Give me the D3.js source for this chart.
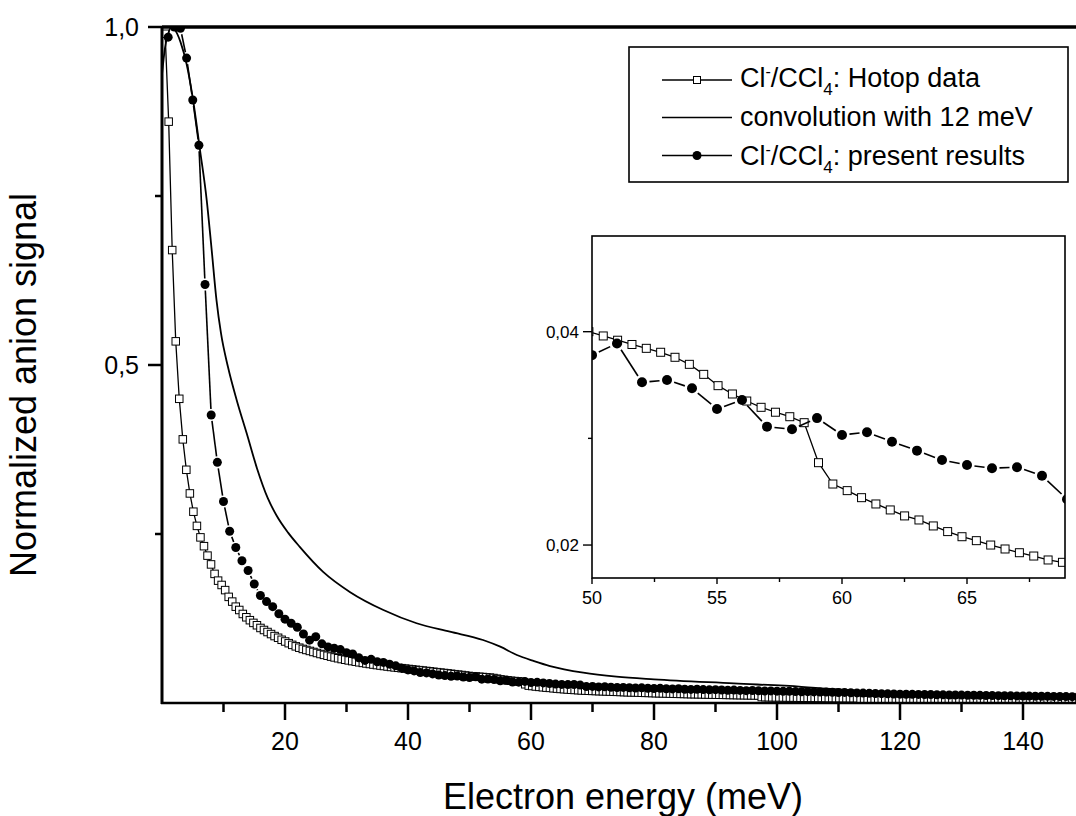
<!DOCTYPE html>
<html>
<head>
<meta charset="utf-8">
<script src="https://cdn.jsdelivr.net/npm/d3@7"></script>
<style>
  body { margin: 0; background: #fff; }
  text { font-family: "Liberation Sans", Arial, Helvetica, sans-serif; fill: #000; }
</style>
</head>
<body>
<div id="chart"></div>
<script>
// ---- data ----
// Hotop data: energy grid of the measurement (meV)
var hotopStart = 0.512, hotopStep = 0.574;
var hotopSignal = [
  0.99, 0.86, 0.67, 0.535, 0.45, 0.39, 0.345, 0.31, 0.283, 0.262,
  0.245, 0.232, 0.218, 0.205, 0.191, 0.181, 0.1746, 0.167, 0.157, 0.150,
  0.1425, 0.1376, 0.1317, 0.1268, 0.1225, 0.1185, 0.115, 0.111, 0.108, 0.105,
  0.102, 0.099, 0.0965, 0.0935, 0.091, 0.0885, 0.086, 0.0838, 0.0818, 0.080,
  0.0785, 0.077, 0.0755, 0.074, 0.0725, 0.0712, 0.0699, 0.0686, 0.0674, 0.0662,
  0.0650, 0.0640, 0.0630, 0.0620, 0.0611, 0.0602, 0.0593, 0.0585, 0.0577, 0.0569,
  0.0561, 0.0554, 0.0547, 0.0540, 0.0533, 0.0527, 0.0521, 0.0515, 0.0509, 0.0503,
  0.0497, 0.0491, 0.0486, 0.0480, 0.0474, 0.0468, 0.0462, 0.0456, 0.0450, 0.0444,
  0.0438, 0.0432, 0.0426, 0.0420, 0.0414, 0.0407, 0.0400,
  0.0396, 0.0392, 0.0388, 0.03844, 0.03807, 0.0376, 0.03694, 0.0360, 0.03494, 0.03416,
  0.0335, 0.03291, 0.03245, 0.03203, 0.03147, 0.02772, 0.02572, 0.0251, 0.02444, 0.02385,
  0.02329, 0.02273, 0.02235, 0.02179, 0.02126, 0.02078, 0.02041, 0.0200, 0.01963, 0.01928,
  0.01897, 0.0186, 0.01838,
  0.0181, 0.0179, 0.0177, 0.0175, 0.0173, 0.0171, 0.0169, 0.0167, 0.0165, 0.0163,
  0.0161, 0.0159, 0.0157, 0.0156, 0.0154, 0.0152, 0.0150, 0.0149, 0.0147, 0.0145,
  0.0144, 0.0142, 0.0141, 0.0139, 0.0138, 0.0136, 0.0135, 0.0134, 0.0132, 0.0131,
  0.0130, 0.0129, 0.0128, 0.0126, 0.0125, 0.0124, 0.0123, 0.0122, 0.0121, 0.0120,
  0.0119, 0.0118, 0.0117, 0.0116, 0.0115, 0.0114, 0.0113, 0.0112, 0.0111, 0.0088,
  0.0086, 0.0085, 0.0084, 0.0083, 0.0083, 0.0082, 0.0081, 0.0080, 0.0080, 0.0079,
  0.0078, 0.0078, 0.0077, 0.0076, 0.0076, 0.0075, 0.0075, 0.0074, 0.0073, 0.0073,
  0.0072, 0.0072, 0.0071, 0.0071, 0.0070, 0.0070, 0.0069,
  0.0048, 0.0047, 0.0047, 0.0046, 0.0046, 0.0046, 0.0045, 0.0045, 0.0044, 0.0044,
  0.0044, 0.0043, 0.0043, 0.0043, 0.0042, 0.0042, 0.0042, 0.0041, 0.0041, 0.0041,
  0.0040, 0.0040, 0.0040, 0.0039, 0.0039, 0.0039, 0.0039, 0.0038, 0.0038, 0.0038,
  0.0037, 0.0037, 0.0037, 0.0037, 0.0036, 0.0036, 0.0036, 0.0036, 0.0035, 0.0035,
  0.0035, 0.0035, 0.0035, 0.0034, 0.0034, 0.0034, 0.0034, 0.0034, 0.0033, 0.0033,
  0.0033, 0.0033, 0.0033, 0.0032, 0.0032, 0.0032, 0.0032, 0.0032, 0.0032, 0.0031,
  0.0031, 0.0031, 0.0031
];

// convolution with 12 meV
var convEnergy = [0, 0.5, 1, 1.5, 2, 3, 4, 5, 6.18, 7.27, 8.08, 8.86, 9.59, 10.73, 12.15,
  13.77, 15.45, 17.2, 18.65, 20.5, 22.4, 26.2, 30.6, 36, 41.4, 46.8, 52.2, 55, 57.7,
  60.5, 63.1, 68.5, 73.9, 80, 93, 104, 115, 125, 136, 150];
var convSignal = [0.93, 0.97, 0.99, 1.0, 0.997, 0.978, 0.945, 0.895, 0.818, 0.744, 0.670, 0.596, 0.547, 0.497, 0.448,
  0.399, 0.347, 0.303, 0.277, 0.252, 0.231, 0.194, 0.164, 0.1376, 0.118, 0.1055, 0.0932, 0.0833, 0.071,
  0.062, 0.0547, 0.0449, 0.039, 0.035, 0.029, 0.024, 0.0167, 0.012, 0.0093, 0.0072];

// present results, 1 meV steps starting at 1 meV
var presentSignal = [
  0.985, 1.0, 0.998, 0.954, 0.892, 0.825, 0.619, 0.426, 0.356, 0.298,
  0.254, 0.230, 0.2105, 0.196, 0.176, 0.159, 0.150, 0.1425, 0.132, 0.124,
  0.118, 0.112, 0.102, 0.093, 0.098, 0.0875, 0.083, 0.081, 0.079, 0.0745,
  0.0725, 0.067, 0.063, 0.0646, 0.061, 0.060, 0.0575, 0.055, 0.0515, 0.049,
  0.0475, 0.045, 0.0445, 0.043, 0.0415, 0.0405, 0.0395, 0.0400, 0.0385, 0.0378,
  0.0389, 0.03526, 0.03547, 0.0347, 0.03275, 0.0336, 0.0311, 0.03085, 0.0319, 0.03032,
  0.03057, 0.02969, 0.02885, 0.02797, 0.0275, 0.0272, 0.0273, 0.0265, 0.0243, 0.0245,
  0.0238, 0.0240, 0.0233, 0.0229, 0.0231, 0.0225, 0.0222, 0.0224, 0.0218, 0.0215,
  0.0217, 0.0211, 0.0208, 0.0210, 0.0204, 0.0201, 0.0203, 0.0198, 0.0195, 0.0197,
  0.0192, 0.0189, 0.0191, 0.0186, 0.0183, 0.0185, 0.0180, 0.0178, 0.0179, 0.0175,
  0.0172, 0.0174, 0.0169, 0.0167, 0.0168, 0.0164, 0.0161, 0.0163, 0.0158, 0.0156,
  0.0157, 0.0152, 0.0149, 0.0147, 0.0143, 0.0140, 0.0138, 0.0135, 0.0133, 0.0131,
  0.0130, 0.0128, 0.0127, 0.0125, 0.0124, 0.0122, 0.0121, 0.0119, 0.0118, 0.0117,
  0.0115, 0.0114, 0.0113, 0.0111, 0.0110, 0.0109, 0.0107, 0.0106, 0.0105, 0.0104,
  0.0102, 0.0101, 0.0100, 0.0099, 0.0098, 0.0096, 0.0095, 0.0094, 0.0093, 0.0092
];

var xMajor = [20, 40, 60, 80, 100, 120, 140];
var xMinor = [10, 30, 50, 70, 90, 110, 130];
var yMajor = [0.5, 1.0];
var yMinor = [0.25, 0.75];

var insetXMajor = [50, 55, 60, 65];
var insetXMinor = [52.5, 57.5, 62.5, 67.5];
var insetYMajor = [0.02, 0.04];
var insetYMinor = [0.03];

var hotop = hotopSignal.map(function(v, i) { return {e: hotopStart + i * hotopStep, v: v}; });
var present = presentSignal.map(function(v, i) { return {e: i + 1, v: v}; });
var conv = convEnergy.map(function(e, i) { return {e: e, v: convSignal[i]}; });

var W = 1076, H = 816;
var svg = d3.select("#chart").append("svg")
    .attr("width", W)
    .attr("height", H);
svg.append("rect").attr("width", W).attr("height", H).attr("fill", "#fff");

// ---- main plot ----
var x = d3.scaleLinear().domain([0, 150]).range([162, 1084.5]);
var y = d3.scaleLinear().domain([0, 1]).range([703, 27]);

svg.append("clipPath").attr("id", "mainClip")
  .append("rect").attr("x", 162).attr("y", 27).attr("width", W - 162).attr("height", 676);

var plot = svg.append("g").attr("clip-path", "url(#mainClip)");

// line segments that stop short of the symbols (Origin style)
function gapSegments(g, pts, gap, width) {
    for (var i = 0; i < pts.length - 1; i++) {
        var a = pts[i], b = pts[i + 1];
        var dx = b[0] - a[0], dy = b[1] - a[1], d = Math.sqrt(dx * dx + dy * dy);
        if (d <= 2 * gap) continue;
        var ux = dx / d, uy = dy / d;
        g.append("line")
            .attr("x1", a[0] + ux * gap).attr("y1", a[1] + uy * gap)
            .attr("x2", b[0] - ux * gap).attr("y2", b[1] - uy * gap)
            .attr("stroke", "#000").attr("stroke-width", width);
    }
}

function drawSeries(g, xs, ys, sq, circR, gap, withConv) {
    var line = d3.line().x(function(d) { return xs(d.e); }).y(function(d) { return ys(d.v); });

    // Hotop
    g.append("path").datum(hotop)
        .attr("d", line)
        .attr("fill", "none").attr("stroke", "#000").attr("stroke-width", 1.3);
    g.selectAll(null).data(hotop).enter().append("rect")
        .attr("x", function(d) { return xs(d.e) - sq / 2; })
        .attr("y", function(d) { return ys(d.v) - sq / 2; })
        .attr("width", sq).attr("height", sq)
        .attr("fill", "#fff").attr("stroke", "#000").attr("stroke-width", 1);

    // convolution
    if (withConv) {
        g.append("path").datum(conv)
            .attr("d", d3.line().curve(d3.curveMonotoneX)
                .x(function(d) { return xs(d.e); }).y(function(d) { return ys(d.v); }))
            .attr("fill", "none").attr("stroke", "#000").attr("stroke-width", 1.8);
    }

    // present results
    var pts = present.map(function(d) { return [xs(d.e), ys(d.v)]; });
    gapSegments(g, pts, gap, 1.6);
    g.selectAll(null).data(present).enter().append("circle")
        .attr("cx", function(d) { return xs(d.e); })
        .attr("cy", function(d) { return ys(d.v); })
        .attr("r", circR)
        .attr("fill", "#000");
}

drawSeries(plot, x, y, 7.5, 4.5, 6, true);

// frame
svg.append("line").attr("x1", 162).attr("x2", W).attr("y1", 27).attr("y2", 27)
    .attr("stroke", "#000").attr("stroke-width", 3.5);
svg.append("line").attr("x1", 162).attr("x2", 162).attr("y1", 26).attr("y2", 704)
    .attr("stroke", "#000").attr("stroke-width", 3);
svg.append("line").attr("x1", 161).attr("x2", W).attr("y1", 703).attr("y2", 703)
    .attr("stroke", "#000").attr("stroke-width", 2.5);

// x ticks
svg.selectAll(null).data(xMajor).enter().append("line")
    .attr("x1", x).attr("x2", x).attr("y1", 703).attr("y2", 720)
    .attr("stroke", "#000").attr("stroke-width", 2.5);
svg.selectAll(null).data(xMinor).enter().append("line")
    .attr("x1", x).attr("x2", x).attr("y1", 703).attr("y2", 712)
    .attr("stroke", "#000").attr("stroke-width", 2.5);
svg.selectAll(null).data(xMajor).enter().append("text")
    .attr("x", x).attr("y", 750)
    .attr("text-anchor", "middle")
    .style("font-size", "25px")
    .text(function(d) { return d; });

// y ticks
svg.selectAll(null).data(yMajor).enter().append("line")
    .attr("x1", 148).attr("x2", 162).attr("y1", y).attr("y2", y)
    .attr("stroke", "#000").attr("stroke-width", 2.5);
svg.selectAll(null).data(yMinor).enter().append("line")
    .attr("x1", 155).attr("x2", 162).attr("y1", y).attr("y2", y)
    .attr("stroke", "#000").attr("stroke-width", 2.5);
svg.selectAll(null).data(yMajor).enter().append("text")
    .attr("x", 139).attr("y", function(d) { return y(d) + 9; })
    .attr("text-anchor", "end")
    .style("font-size", "25px")
    .text(function(d) { return d3.format(".1f")(d).replace(".", ","); });

// axis titles
svg.append("text")
    .attr("x", 623).attr("y", 809)
    .attr("text-anchor", "middle")
    .style("font-size", "36px")
    .text("Electron energy (meV)");
svg.append("text")
    .attr("transform", "translate(36,385) rotate(-90)")
    .attr("text-anchor", "middle")
    .style("font-size", "36px")
    .text("Normalized anion signal");

// ---- legend ----
var legend = svg.append("g");
legend.append("rect")
    .attr("x", 629).attr("y", 47).attr("width", 439).attr("height", 135)
    .attr("fill", "#fff").attr("stroke", "#000").attr("stroke-width", 1.6);

var rows = [80, 117.5, 155.5];
rows.forEach(function(ry) {
    legend.append("line").attr("x1", 662).attr("x2", 732).attr("y1", ry).attr("y2", ry)
        .attr("stroke", "#000").attr("stroke-width", 1.6);
});
legend.append("rect").attr("x", 693.5).attr("y", rows[0] - 3.5).attr("width", 7).attr("height", 7)
    .attr("fill", "#fff").attr("stroke", "#000").attr("stroke-width", 1);
legend.append("circle").attr("cx", 697).attr("cy", rows[2]).attr("r", 4.5).attr("fill", "#000");

function ionLabel(ty, rest) {
    var t = legend.append("text").attr("x", 740).attr("y", ty).style("font-size", "27px");
    t.append("tspan").text("Cl");
    t.append("tspan").attr("dy", -10).style("font-size", "16px").text("-");
    t.append("tspan").attr("dy", 10).text("/CCl");
    t.append("tspan").attr("dy", 8).style("font-size", "17px").text("4");
    t.append("tspan").attr("dy", -8).text(rest);
}
ionLabel(87, ": Hotop data");
legend.append("text").attr("x", 740).attr("y", 126).style("font-size", "27px")
    .text("convolution with 12 meV");
ionLabel(165, ": present results");

// ---- inset ----
var ix = d3.scaleLinear().domain([50, 68.92]).range([592, 1065]);
var iy = d3.scaleLinear().domain([0.01691, 0.04897]).range([578, 236]);

svg.append("rect").attr("x", 592).attr("y", 236).attr("width", 473).attr("height", 342)
    .attr("fill", "#fff");
svg.append("clipPath").attr("id", "insetClip")
  .append("rect").attr("x", 592).attr("y", 236).attr("width", 473).attr("height", 342);
var inset = svg.append("g").attr("clip-path", "url(#insetClip)");
drawSeries(inset, ix, iy, 8, 5, 7.5, false);

svg.append("rect").attr("x", 592).attr("y", 236).attr("width", 473).attr("height", 342)
    .attr("fill", "none").attr("stroke", "#000").attr("stroke-width", 1.6);

svg.selectAll(null).data(insetXMajor).enter().append("line")
    .attr("x1", ix).attr("x2", ix).attr("y1", 578).attr("y2", 584)
    .attr("stroke", "#000").attr("stroke-width", 1.4);
svg.selectAll(null).data(insetXMinor).enter().append("line")
    .attr("x1", ix).attr("x2", ix).attr("y1", 578).attr("y2", 582)
    .attr("stroke", "#000").attr("stroke-width", 1.4);
svg.selectAll(null).data(insetXMajor).enter().append("text")
    .attr("x", ix).attr("y", 604)
    .attr("text-anchor", "middle")
    .style("font-size", "18px")
    .text(function(d) { return d; });

svg.selectAll(null).data(insetYMajor).enter().append("line")
    .attr("x1", 583).attr("x2", 592).attr("y1", iy).attr("y2", iy)
    .attr("stroke", "#000").attr("stroke-width", 1.4);
svg.selectAll(null).data(insetYMinor).enter().append("line")
    .attr("x1", 588).attr("x2", 592).attr("y1", iy).attr("y2", iy)
    .attr("stroke", "#000").attr("stroke-width", 1.4);
svg.selectAll(null).data(insetYMajor).enter().append("text")
    .attr("x", 579).attr("y", function(d) { return iy(d) + 6; })
    .attr("text-anchor", "end")
    .style("font-size", "17px")
    .text(function(d) { return d3.format(".2f")(d).replace(".", ","); });
</script>
</body>
</html>
